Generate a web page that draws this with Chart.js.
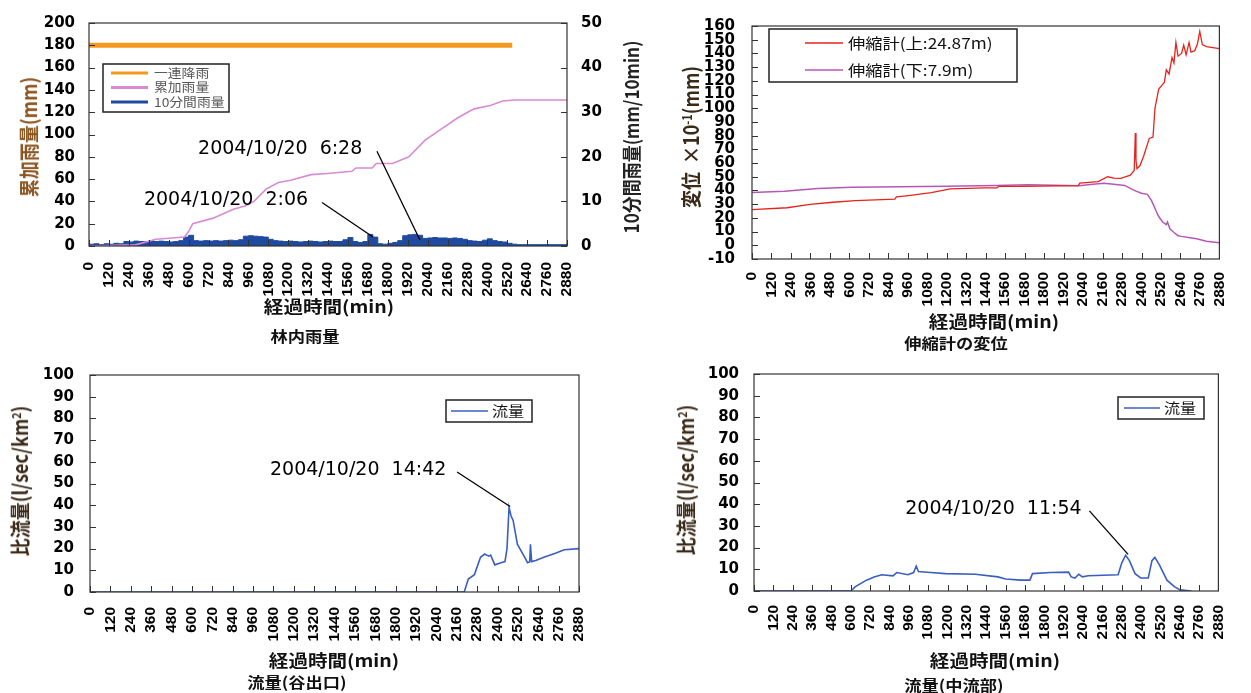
<!DOCTYPE html>
<html>
<head>
<meta charset="utf-8">
<script src="https://cdn.jsdelivr.net/npm/chart.js@4.4.1/dist/chart.umd.min.js"></script>
<style>
  body { margin: 0; background: #fff; width: 1251px; height: 693px; position: relative; overflow: hidden;
         font-family: "Noto Sans CJK JP", sans-serif; }
  canvas { position: absolute; }
  .t { position: absolute; white-space: nowrap; line-height: 1; color: #111; font-weight: bold; }
  .h { transform: translate(-50%, -50%) scale(1.15, 1); }
  .v { transform: translate(-50%, -50%) rotate(-90deg) scale(1, 1.15); }
  sup { font-size: 0.6em; vertical-align: 0.6em; }
</style>
</head>
<body>
<canvas id="rainChart" width="640" height="350" style="left:0;top:0"></canvas>
<canvas id="extChart" width="611" height="350" style="left:640px;top:0"></canvas>
<canvas id="outletChart" width="640" height="343" style="left:0;top:350px"></canvas>
<canvas id="midChart" width="611" height="343" style="left:640px;top:350px"></canvas>

<div class="t v" style="left:28px;top:137px;font-size:18px;color:#8a5520">累加雨量(mm)</div>
<div class="t v" style="left:630px;top:137px;font-size:17px;color:#222">10分間雨量(mm/10min)</div>
<div class="t h" style="left:329px;top:305px;font-size:17px">経過時間(min)</div>
<div class="t h" style="left:305px;top:335px;font-size:15px">林内雨量</div>

<div class="t v" style="left:690px;top:137px;font-size:18px;color:#3a2a18">変位&nbsp;&nbsp;×10<sup>-1</sup>(mm)</div>
<div class="t h" style="left:994px;top:320px;font-size:17px">経過時間(min)</div>
<div class="t h" style="left:956px;top:342px;font-size:15px">伸縮計の変位</div>

<div class="t v" style="left:19px;top:481px;font-size:18px;color:#3a2a18">比流量(l/sec/km<sup>2</sup>)</div>
<div class="t h" style="left:334px;top:659px;font-size:17px">経過時間(min)</div>
<div class="t h" style="left:297px;top:681px;font-size:15px">流量(谷出口)</div>

<div class="t v" style="left:685px;top:480px;font-size:18px;color:#3a2a18">比流量(l/sec/km<sup>2</sup>)</div>
<div class="t h" style="left:995px;top:659px;font-size:17px">経過時間(min)</div>
<div class="t h" style="left:954px;top:684px;font-size:15px">流量(中流部)</div>

<script>
// 経過時間 (min) の目盛
const timeTicks = [0, 120, 240, 360, 480, 600, 720, 840, 960, 1080, 1200, 1320, 1440, 1560,
                   1680, 1800, 1920, 2040, 2160, 2280, 2400, 2520, 2640, 2760, 2880];

// 林内雨量: 一連降雨 / 累加雨量 [min, mm]
const rainEvent = [[0, 180], [2550, 180]];
const rainCumulative = [[0, 0], [280, 1], [354, 4], [403, 6], [575, 8], [600, 13], [625, 20], [748, 25],
  [870, 33], [944, 36], [994, 40], [1067, 51], [1141, 57], [1215, 59], [1338, 64], [1436, 65],
  [1584, 67], [1608, 70], [1706, 70], [1731, 74], [1829, 74], [1927, 80], [2025, 95], [2124, 105],
  [2222, 115], [2320, 123], [2418, 126], [2492, 130], [2566, 131], [2880, 131]];

// 10分間雨量 (mm/10min), 30分ごと
const rainStepMin = 30;
const rain10 = [0.6, 0.4, 0.5, 0.3, 0.5, 0.4, 0.6, 0.5, 1.0, 0.9,
  1.1, 1.0, 1.0, 1.2, 1.0, 1.1, 1.0, 0.9, 1.0, 1.2,
  2.0, 2.4, 1.2, 1.1, 1.2, 1.1, 1.2, 1.1, 1.2, 1.3,
  1.2, 1.4, 2.2, 2.3, 2.2, 2.1, 2.0, 1.5, 1.2, 1.1,
  1.0, 1.1, 1.0, 0.9, 1.0, 1.1, 1.0, 0.9, 1.0, 1.1,
  1.0, 1.0, 1.4, 1.9, 1.0, 0.8, 1.0, 2.6, 2.0, 0.5,
  0.4, 0.6, 0.8, 1.2, 2.3, 2.5, 2.6, 2.4, 1.7, 1.8,
  1.9, 1.8, 1.8, 1.7, 1.8, 1.7, 1.5, 1.2, 1.1, 1.0,
  1.3, 1.6, 1.2, 1.0, 0.9, 0.6, 0.4, 0.3, 0.3, 0.3,
  0.3, 0.3, 0.3, 0.3, 0.3, 0.3, 0.3];

// 伸縮計 (×10^-1 mm)
const extUpper = [[0, 26], [217, 27.4], [357, 29.8], [498, 31.4], [638, 32.6], [880, 33.7], [890, 35.3],
  [965, 36.3], [1105, 38.4], [1222, 41.2], [1432, 41.9], [1510, 42], [1520, 43], [1666, 43],
  [2010, 43.5], [2020, 45.3], [2133, 46.5], [2191, 50], [2230, 49], [2273, 48.8], [2331, 51.2],
  [2355, 54.6], [2362, 82], [2366, 62], [2372, 56], [2390, 58], [2413, 65], [2448, 78], [2471, 79],
  [2483, 100], [2506, 114], [2520, 116], [2541, 119], [2553, 128], [2570, 125], [2588, 137],
  [2600, 133], [2612, 148], [2625, 138], [2647, 140], [2660, 146], [2675, 139], [2693, 148],
  [2705, 141], [2728, 142], [2745, 147], [2759, 156], [2775, 146.5], [2800, 145], [2880, 143.5]];
const extLower = [[0, 38.5], [200, 39.5], [404, 41.4], [614, 42.3], [1198, 43], [1502, 43.7],
  [1700, 44.2], [2016, 43.5], [2100, 44.5], [2168, 45.3], [2230, 44.5], [2296, 43.7], [2340, 41],
  [2366, 39.5], [2400, 38], [2436, 37.2], [2460, 33], [2471, 30.2], [2490, 25], [2506, 21],
  [2530, 17], [2553, 15.1], [2560, 17], [2575, 12], [2600, 9.3], [2625, 7], [2647, 6.5],
  [2700, 5.5], [2740, 4.7], [2800, 3], [2880, 1.9]];

// 比流量 (l/sec/km2)
const flowOutlet = [[0, 0], [2204, 0], [2228, 6], [2264, 8], [2300, 16], [2324, 17.5], [2348, 16.5],
  [2360, 17], [2384, 12.5], [2420, 13.5], [2444, 14], [2456, 20], [2468, 39], [2480, 35], [2492, 33],
  [2517, 22], [2553, 17], [2577, 13.5], [2590, 14], [2594, 22], [2601, 14], [2625, 14.5], [2673, 16],
  [2745, 18], [2793, 19.5], [2880, 20]];
const flowMid = [[0, 0], [600, 0], [629, 2], [698, 5], [745, 6.5], [792, 7.5], [862, 7], [885, 8.5],
  [955, 7.5], [990, 8.5], [1006, 11.5], [1020, 9], [1094, 8.5], [1187, 8], [1373, 7.7], [1513, 6.5],
  [1560, 5.5], [1653, 5], [1711, 5], [1727, 8], [1839, 8.5], [1951, 8.7], [1967, 6.5], [1990, 6],
  [2014, 7.7], [2037, 6.5], [2072, 7], [2258, 7.5], [2281, 13], [2305, 16.5], [2328, 14], [2363, 8],
  [2398, 6], [2445, 6], [2468, 14], [2486, 15.5], [2514, 12], [2561, 5], [2607, 2], [2642, 0.5],
  [2712, 0]];

const pts = arr => arr.map(([x, y]) => ({ x, y }));

const tickFontY = { family: '"DejaVu Sans", sans-serif', size: 15, weight: 'bold' };
const tickFontX = { family: '"Liberation Sans", Arial, sans-serif', size: 15.5, weight: 'bold' };

// 枠・内向き目盛・注記・凡例
const framePlugin = {
    id: 'frame',
    afterDraw(chart, args, o) {
        const { ctx, chartArea: a, scales } = chart;
        ctx.save();
        ctx.strokeStyle = '#333';
        ctx.lineWidth = 1.2;
        ctx.strokeRect(a.left, a.top, a.right - a.left, a.bottom - a.top);
        ctx.lineWidth = 1;
        Object.values(scales).forEach(s => {
            s.ticks.forEach(t => {
                const p = Math.round(s.getPixelForValue(t.value)) + 0.5;
                ctx.beginPath();
                if (s.axis === 'x') { ctx.moveTo(p, a.bottom); ctx.lineTo(p, a.bottom - 6); }
                else if (s.position === 'left') { ctx.moveTo(a.left, p); ctx.lineTo(a.left + 6, p); }
                else { ctx.moveTo(a.right, p); ctx.lineTo(a.right - 6, p); }
                ctx.stroke();
            });
        });

        const xs = scales.x, ys = scales.y;
        ctx.fillStyle = '#000';
        ctx.strokeStyle = '#000';
        ctx.font = '19px "DejaVu Sans", sans-serif';
        ctx.textBaseline = 'middle';
        (o.notes || []).forEach(n => {
            ctx.fillText(n.text, xs.getPixelForValue(n.at[0]), ys.getPixelForValue(n.at[1]));
            ctx.beginPath();
            ctx.lineWidth = 1.3;
            ctx.moveTo(xs.getPixelForValue(n.from[0]), ys.getPixelForValue(n.from[1]));
            ctx.lineTo(xs.getPixelForValue(n.to[0]), ys.getPixelForValue(n.to[1]));
            ctx.stroke();
        });

        const L = o.legend;
        if (L) {
            ctx.fillStyle = '#fff';
            ctx.fillRect(L.x, L.y, L.w, L.h);
            ctx.strokeStyle = '#222';
            ctx.lineWidth = 1.5;
            ctx.strokeRect(L.x, L.y, L.w, L.h);
            ctx.font = L.font;
            chart.data.datasets.forEach((d, i) => {
                const yy = L.row0 + i * L.step;
                ctx.strokeStyle = d.borderColor;
                ctx.lineWidth = L.lw;
                ctx.beginPath();
                ctx.moveTo(L.x1, yy);
                ctx.lineTo(L.x2, yy);
                ctx.stroke();
                ctx.save();
                ctx.fillStyle = L.color;
                ctx.translate(L.tx, yy);
                ctx.scale(1.15, 1);
                ctx.fillText(d.label, 0, 0);
                ctx.restore();
            });
        }
        ctx.restore();
    }
};

function xAxis(pad, h) {
    return {
        type: 'linear', min: 0, max: 2880,
        grid: { display: false, drawTicks: false },
        border: { display: false },
        afterBuildTicks: s => { s.ticks = timeTicks.map(v => ({ value: v })); },
        ticks: { autoSkip: false, minRotation: 90, maxRotation: 90, padding: pad, color: '#000', font: tickFontX,
                 callback: v => String(v) },
        afterFit: s => { s.height = h; }
    };
}

function yAxis(min, max, step, pad, w, position) {
    return {
        type: 'linear', position: position || 'left', min, max,
        grid: { display: false, drawTicks: false },
        border: { display: false },
        ticks: { stepSize: step, autoSkip: false, padding: pad, color: '#000', font: tickFontY,
                 callback: v => String(v) },
        afterFit: s => { s.width = w; }
    };
}

function makeChart(id, datasets, scales, padding, extra) {
    new Chart(document.getElementById(id), {
        type: 'line',
        data: { datasets },
        options: {
            responsive: false,
            animation: false,
            layout: { padding },
            elements: { point: { radius: 0 }, line: { tension: 0 } },
            scales,
            plugins: { legend: { display: false }, tooltip: { enabled: false }, frame: extra }
        },
        plugins: [framePlugin]
    });
}

// 林内雨量
makeChart('rainChart', [
    { label: '一連降雨', data: pts(rainEvent), borderColor: '#f39a1e', borderWidth: 5, yAxisID: 'y' },
    { label: '累加雨量', data: pts(rainCumulative), borderColor: '#d88bd3', borderWidth: 1.6, yAxisID: 'y' },
    { label: '10分間雨量', data: rain10.map((v, i) => ({ x: i * rainStepMin, y: v })),
      borderColor: '#1f4aa0', backgroundColor: '#1f4aa0', borderWidth: 1, stepped: 'after',
      fill: 'origin', yAxisID: 'y2' }
], {
    x: xAxis(16, 104),
    y: yAxis(0, 200, 20, 14, 89, 'left'),
    y2: yAxis(0, 50, 10, 14, 73, 'right')
}, { top: 21, left: 0, right: 0, bottom: 0 }, {
    notes: [
        { text: '2004/10/20  6:28', at: [657, 87], from: [1735, 85], to: [1994, 5.3] },
        { text: '2004/10/20  2:06', at: [331, 41], from: [1404, 39], to: [1711, 8] }
    ],
    legend: { x: 103, y: 64, w: 126, h: 48, row0: 73, step: 14.5, x1: 111, x2: 148, tx: 154, lw: 3,
              font: '12px "Noto Sans CJK JP", sans-serif', color: '#555' }
});

// 伸縮計の変位
makeChart('extChart', [
    { label: '伸縮計(上:24.87m)', data: pts(extUpper), borderColor: '#e5241d', borderWidth: 1.3 },
    { label: '伸縮計(下:7.9m)', data: pts(extLower), borderColor: '#b657b8', borderWidth: 1.5 }
], {
    x: xAxis(13, 91),
    y: yAxis(-10, 160, 10, 17, 112, 'left')
}, { top: 14, left: 0, right: 18, bottom: 0 }, {
    legend: { x: 129, y: 29, w: 248, h: 53, row0: 43, step: 27, x1: 165, x2: 203, tx: 208, lw: 1.5,
              font: '15px "Noto Sans CJK JP", sans-serif', color: '#111' }
});

// 流量(谷出口)
makeChart('outletChart', [
    { label: '流量', data: pts(flowOutlet), borderColor: '#3b5fc0', borderWidth: 1.6 }
], {
    x: xAxis(15, 101),
    y: yAxis(0, 100, 10, 16, 90, 'left')
}, { top: 16, left: 0, right: 61, bottom: 0 }, {
    notes: [{ text: '2004/10/20  14:42', at: [1060, 56.2], from: [2162, 55.3], to: [2474, 39.4] }],
    legend: { x: 446, y: 50, w: 86, h: 22, row0: 61, step: 0, x1: 451, x2: 488, tx: 492, lw: 1.5,
              font: '14px "Noto Sans CJK JP", sans-serif', color: '#111' }
});

// 流量(中流部)
makeChart('midChart', [
    { label: '流量', data: pts(flowMid), borderColor: '#3b5fc0', borderWidth: 1.6 }
], {
    x: xAxis(14, 102),
    y: yAxis(0, 100, 10, 15, 114, 'left')
}, { top: 16, left: 0, right: 18, bottom: 0 }, {
    notes: [{ text: '2004/10/20  11:54', at: [938, 37.8], from: [2080, 36.9], to: [2320, 16.9] }],
    legend: { x: 478, y: 47, w: 86, h: 22, row0: 58, step: 0, x1: 484, x2: 520, tx: 524, lw: 1.5,
              font: '14px "Noto Sans CJK JP", sans-serif', color: '#111' }
});
</script>
</body>
</html>
